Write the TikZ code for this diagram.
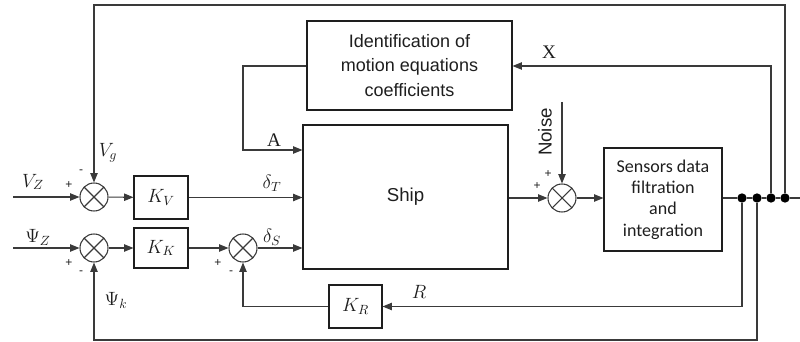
\documentclass[tikz,border=0pt]{standalone}
\usepackage{fontspec}
\setmainfont{Liberation Sans}
\newfontfamily\calib{Carlito}
\newfontfamily\tms{Liberation Serif}
\usetikzlibrary{arrows.meta,calc}
\definecolor{Wire}{HTML}{3A3A3A}
\definecolor{Frame}{HTML}{1E1E1E}

\begin{document}
\begin{tikzpicture}[x=0.75pt,y=-0.75pt,line width=0.8pt,every node/.style={text=Frame},
  wire/.style={draw=Wire},
  sig/.style={draw=Wire,-{Triangle[length=7pt,width=5.5pt]}},
  blk/.style={draw=Frame,rectangle,inner sep=0pt,align=center},
  sumj/.style={circle,draw=Wire,minimum size=21pt,inner sep=0pt,
    path picture={\draw[Wire] (path picture bounding box.north west)--(path picture bounding box.south east)
      (path picture bounding box.north east)--(path picture bounding box.south west);}},
  tap/.style={circle,fill=black,inner sep=0pt,minimum size=7pt},
  lbl/.style={font=\Large},
  gain/.style={blk,font=\Large},
  sgn/.style={font=\small}]
\useasboundingbox (0,0) rectangle (800,342);
% blocks
\node[blk,minimum width=153.75pt,minimum height=66.75pt,font=\fontsize{13.5}{18.5}\selectfont] (ident) at (409.5,65.5) {Identification of\\motion equations\\coefficients};
\node[blk,minimum width=153.75pt,minimum height=108pt,font=\fontsize{14}{17}\selectfont] (ship) at (405.5,197) {Ship};
\node[blk,minimum width=88.5pt,minimum height=77.25pt,font=\calib\fontsize{13.5}{16}\selectfont] (filt) at (663,199.5) {Sensors data\\filtration\\and\\integration};
\node[gain,minimum width=40.5pt,minimum height=32.25pt] (KV) at (161,197.5) {$K_V$};
\node[gain,minimum width=40.5pt,minimum height=30pt] (KK) at (161,248) {$K_K$};
\node[gain,minimum width=39.75pt,minimum height=32.25pt] (KR) at (355.5,306.5) {$K_R$};
% summing junctions
\node[sumj] (sumV) at (94,197) {};
\node[sumj] (sumP) at (94,248) {};
\node[sumj] (sumS) at (243,248) {};
\node[sumj] (sumN) at (562,198) {};
% taps on the output line
\node[tap] (t1) at (742,198) {};
\node[tap] (t2) at (757,198) {};
\node[tap] (t3) at (771,198) {};
\node[tap] (t4) at (785,198) {};
\coordinate (inV) at (13,197);
\coordinate (inP) at (13,248);
\coordinate (out) at (800,198);
\coordinate (noise) at (562,102);
\coordinate (topl) at (785,5);
\coordinate (xl) at (771,66);
\coordinate (al) at (243,66);
\coordinate (rl) at (742,306.5);
\coordinate (bl) at (757,340);
% forward path
\draw[sig] (inV) -- (sumV);
\draw[sig] (sumV) -- (KV);
\draw[sig] (KV) -- (KV -| ship.west);
\draw[sig] (inP) -- (sumP);
\draw[sig] (sumP) -- (KK);
\draw[sig] (KK) -- (sumS);
\draw[sig] (sumS) -- (sumS -| ship.west);
\draw[sig] (ship.east |- sumN) -- (sumN);
\draw[sig] (noise) -- (sumN);
\draw[sig] (sumN) -- (sumN -| filt.west);
\draw[wire] (filt.east |- t1) -- (t1) -- (t2) -- (t3) -- (t4) -- (out);
% feedback paths
\draw[sig] (t4) -- (topl) -| (sumV);
\draw[sig] (t3) -- (xl) -- (xl -| ident.east);
\draw[sig] (ident.west |- al) -- (al) -- ++(0,84) -- (ship.west |- 0,150);
\draw[sig] (t1) -- (rl) -- (KR);
\draw[sig] (KR) -| (sumS);
\draw[sig] (t2) -- (bl) -| (sumP);
% labels
\node[lbl] (lVz) at (33,182) {$V_Z$};
\node[lbl] (lVg) at (108,153) {$V_g$};
\node[lbl] (lPz) at (38,237) {$\Psi_Z$};
\node[lbl] (lPk) at (116,300) {$\Psi_k$};
\node[lbl] (ldT) at (272,183) {$\delta_T$};
\node[lbl] (ldS) at (272,237) {$\delta_S$};
\node[font=\tms\Large] (lA) at (274,140) {A};
\node[font=\tms\Large] (lX) at (549,52) {X};
\node[lbl] (lR) at (419,292) {$R$};
\node[rotate=90,font=\fontsize{14}{16}\selectfont] (lN) at (545,132) {Noise};
\node[sgn] at (69,185) {+};
\node[sgn] at (81,172) {-};
\node[sgn] at (69,263) {+};
\node[sgn] at (81,273) {-};
\node[sgn] at (218,263) {+};
\node[sgn] at (231,273) {-};
\node[sgn] at (537,186) {+};
\node[sgn] at (548,174) {+};
\end{tikzpicture}
\end{document}
